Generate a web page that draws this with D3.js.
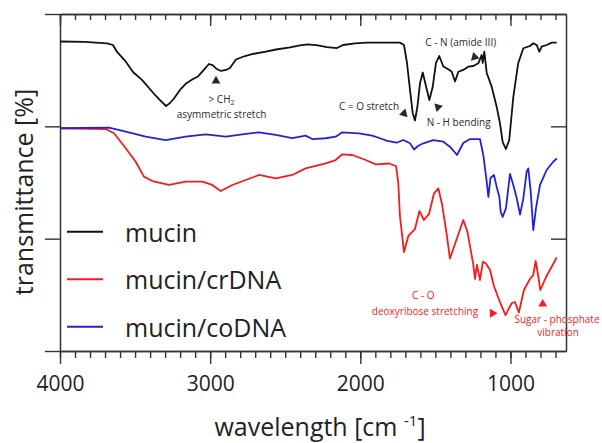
<!DOCTYPE html>
<html>
<head>
<meta charset="utf-8">
<script src="https://cdn.jsdelivr.net/npm/d3@7"></script>
<style>
  body { margin: 0; background: #fff; }
  svg { display: block; }
  text { font-family: "Open Sans", sans-serif; }
</style>
</head>
<body>
<svg id="chart" width="602" height="443"></svg>
<script>
// FTIR spectra: [wavenumber (cm-1), transmittance (offset, a.u.)]
const mucin = [
  [4000,2.755],[3835,2.751],[3687,2.738],[3647,2.724],[3620,2.662],[3560,2.573],[3514,2.484],
  [3454,2.413],[3367,2.279],[3334,2.234],[3294,2.181],[3267,2.208],[3241,2.248],[3201,2.324],
  [3161,2.381],[3114,2.421],[3081,2.444],[3048,2.493],[3008,2.555],[2981,2.542],[2961,2.515],
  [2928,2.493],[2894,2.502],[2868,2.519],[2828,2.595],[2768,2.626],[2715,2.644],[2628,2.666],
  [2561,2.684],[2468,2.702],[2402,2.720],[2348,2.729],[2282,2.720],[2222,2.706],[2155,2.697],
  [2115,2.724],[2035,2.738],[1955,2.746],[1835,2.746],[1736,2.745],[1709,2.724],[1689,2.564],
  [1669,2.324],[1651,2.119],[1636,2.052],[1620,2.172],[1602,2.386],[1584,2.479],[1562,2.355],
  [1540,2.234],[1518,2.350],[1496,2.564],[1474,2.626],[1447,2.533],[1414,2.508],[1391,2.486],
  [1369,2.399],[1347,2.486],[1314,2.502],[1281,2.531],[1247,2.537],[1214,2.561],[1192,2.635],
  [1185,2.564],[1174,2.664],[1158,2.475],[1125,2.353],[1092,2.175],[1070,2.030],[1052,1.861],
  [1030,1.798],[1008,1.878],[981,2.261],[948,2.564],[914,2.695],[870,2.715],[848,2.739],
  [825,2.724],[808,2.664],[792,2.709],[759,2.724],[725,2.745],[692,2.745]
];

const mucinCrDNA = [
  [4000,1.983],[3696,1.976],[3640,1.938],[3562,1.805],[3496,1.685],[3441,1.552],[3385,1.513],
  [3274,1.478],[3163,1.507],[3052,1.507],[2986,1.478],[2930,1.424],[2852,1.478],[2763,1.522],
  [2675,1.567],[2563,1.537],[2453,1.567],[2364,1.626],[2230,1.671],[2164,1.700],[2120,1.751],
  [2053,1.745],[1964,1.700],[1897,1.662],[1809,1.669],[1762,1.647],[1747,1.496],[1736,1.202],
  [1709,0.881],[1680,1.024],[1636,1.086],[1606,1.246],[1576,1.166],[1542,1.220],[1509,1.404],
  [1480,1.447],[1456,1.309],[1425,1.042],[1403,0.823],[1366,0.966],[1314,1.166],[1286,1.059],
  [1247,0.766],[1236,0.641],[1223,0.766],[1203,0.632],[1183,0.795],[1163,0.779],[1136,0.721],
  [1110,0.579],[1070,0.436],[1033,0.320],[992,0.425],[970,0.436],[944,0.343],[910,0.543],
  [870,0.641],[848,0.677],[832,0.801],[814,0.659],[801,0.543],[759,0.668],[692,0.832]
];

const mucinCoDNA = [
  [4000,1.983],[3674,1.988],[3562,1.952],[3429,1.908],[3296,1.878],[3163,1.908],[3030,1.929],
  [2896,1.908],[2786,1.929],[2675,1.947],[2563,1.923],[2453,1.894],[2364,1.917],[2320,1.887],
  [2230,1.894],[2164,1.908],[2120,1.947],[2009,1.938],[1920,1.917],[1869,1.894],[1820,1.870],
  [1758,1.854],[1714,1.878],[1669,1.849],[1642,1.794],[1616,1.825],[1580,1.849],[1514,1.878],
  [1447,1.863],[1403,1.819],[1356,1.745],[1314,1.852],[1269,1.887],[1203,1.887],[1181,1.745],
  [1158,1.507],[1147,1.371],[1133,1.540],[1110,1.567],[1092,1.463],[1074,1.371],[1065,1.240],
  [1052,1.193],[1030,1.270],[1003,1.576],[981,1.478],[958,1.359],[936,1.215],[914,1.359],
  [892,1.596],[881,1.626],[865,1.418],[848,1.077],[830,1.270],[803,1.478],[759,1.611],
  [715,1.685],[690,1.715]
];

const seriesNames = ["mucin", "mucin/crDNA", "mucin/coDNA"];
const seriesColors = ["#111111", "#f41c1c", "#2323d6"];
const majorTicks = [4000, 3000, 2000, 1000];
const minorTicks = d3.range(700, 4001, 100);
const yTicks = [0, 1, 2, 3];

const svg = d3.select("#chart");
const x = d3.scaleLinear().domain([4000, 630]).range([60, 566]);
const y = d3.scaleLinear().domain([0, 3]).range([351, 14]);

const axisColor = "#333";

function styleAxis(g) {
  g.selectAll("path.domain").attr("stroke", axisColor).attr("stroke-width", 1.5);
  g.selectAll(".tick line").attr("stroke", axisColor).attr("stroke-width", 1.4);
}

// bottom axis (ticks outward), labelled major ticks
svg.append("g").attr("transform", `translate(0,${y(0)})`)
  .call(d3.axisBottom(x).tickValues(minorTicks).tickSize(7).tickSizeOuter(0).tickFormat(""))
  .call(styleAxis);
svg.append("g").attr("transform", `translate(0,${y(0)})`)
  .call(d3.axisBottom(x).tickValues(majorTicks).tickSize(13).tickSizeOuter(0).tickPadding(12)
    .tickFormat(d3.format("d")))
  .call(styleAxis)
  .call(g => g.selectAll(".tick text").attr("fill", "#222").attr("font-size", 21)
    .attr("font-family", "'Open Sans', sans-serif"));

// top mirror axis (ticks pointing into the plot)
svg.append("g").attr("transform", `translate(0,${y(3)})`)
  .call(d3.axisBottom(x).tickValues(minorTicks).tickSize(6).tickSizeOuter(0).tickFormat(""))
  .call(styleAxis);
svg.append("g").attr("transform", `translate(0,${y(3)})`)
  .call(d3.axisBottom(x).tickValues(majorTicks).tickSize(12).tickSizeOuter(0).tickFormat(""))
  .call(styleAxis);

// left axis (ticks outward) and right mirror axis (ticks inward)
svg.append("g").attr("transform", `translate(${x(4000)},0)`)
  .call(d3.axisLeft(y).tickValues(yTicks).tickSize(15).tickSizeOuter(0).tickFormat(""))
  .call(styleAxis);
svg.append("g").attr("transform", `translate(${x(630)},0)`)
  .call(d3.axisLeft(y).tickValues([1, 2]).tickSize(15).tickSizeOuter(0).tickFormat(""))
  .call(styleAxis);

// spectra
const line = d3.line().x(d => x(d[0])).y(d => y(d[1]));
[mucin, mucinCrDNA, mucinCoDNA].forEach((data, i) => {
  svg.append("path").datum(data)
    .attr("fill", "none")
    .attr("stroke", seriesColors[i])
    .attr("stroke-width", 1.8)
    .attr("stroke-linejoin", "round")
    .attr("d", line);
});

// band assignments
const tri = d3.symbol().type(d3.symbolTriangle).size(34);
function marker(wn, t, angle, color) {
  svg.append("path").attr("d", tri())
    .attr("fill", color)
    .attr("transform", `translate(${x(wn)},${y(t)}) rotate(${angle})`);
}
function note(wn, t, str, color, anchor) {
  return svg.append("text").attr("x", x(wn)).attr("y", y(t)).attr("dy", "0.35em")
    .attr("text-anchor", anchor || "middle").attr("font-size", 10).attr("fill", color)
    .text(str);
}

const dark = "#2a2a2a";
marker(2961, 2.405, 0, dark);
const ch2 = note(2924, 2.243, "> CH", dark);
ch2.append("tspan").attr("font-size", 7).attr("dy", "0.3em").text("2");
note(2924, 2.101, "asymmetric stretch", dark);

marker(1709, 2.114, 135, dark);
note(1742, 2.181, "C = O stretch", dark, "end");

marker(1483, 2.172, -45, dark);
note(1558, 2.032, "N - H bending", dark, "start");

marker(1239, 2.617, -135, dark);
note(1331, 2.745, "C - N (amide III)", dark);

const red = seriesColors[1];
marker(1120, 0.336, 90, red);
note(1580, 0.490, "C - O", red);
note(1569, 0.350, "deoxyribose stretching", red);

marker(785, 0.418, 0, red);
note(690, 0.276, "Sugar - phosphate", red);
note(683, 0.163, "vibration", red);

// legend
const legend = svg.append("g");
seriesNames.forEach((name, i) => {
  const cy = 231.7 + i * 47.5;
  legend.append("line").attr("x1", 67).attr("x2", 103).attr("y1", cy).attr("y2", cy)
    .attr("stroke", seriesColors[i]).attr("stroke-width", 2);
  legend.append("text").attr("x", 125).attr("y", cy + 10).attr("font-size", 25)
    .attr("fill", "#222").text(name);
});

// axis titles
svg.append("text")
  .attr("transform", "translate(33,192) rotate(-90)")
  .attr("text-anchor", "middle").attr("font-size", 25).attr("fill", "#222")
  .text("transmittance [%]");

const xt = svg.append("text").attr("x", 320).attr("y", 436)
  .attr("text-anchor", "middle").attr("font-size", 25).attr("fill", "#222")
  .text("wavelength [cm ");
xt.append("tspan").attr("font-size", 15).attr("dy", -10).text("-1");
xt.append("tspan").attr("dy", 10).text("]");
</script>
</body>
</html>
